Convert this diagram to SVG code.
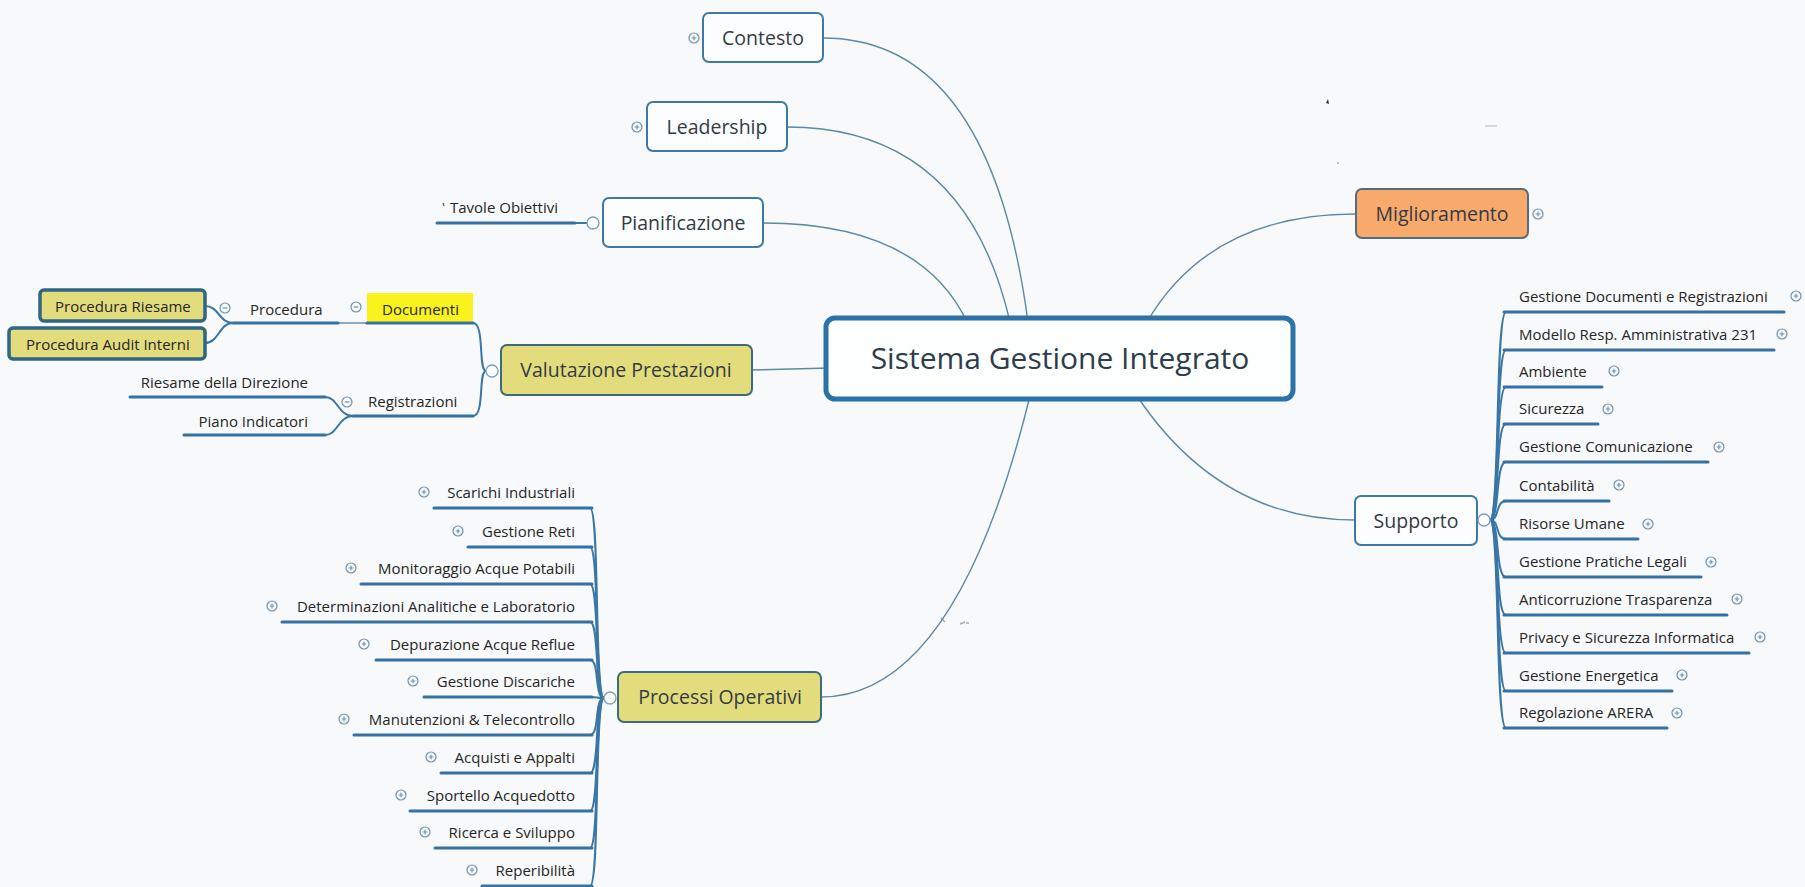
<svg xmlns="http://www.w3.org/2000/svg" xmlns:xlink="http://www.w3.org/1999/xlink" width="1805" height="887" viewBox="0 0 1805 887">
<defs>
<style>
.t{font-family:"Open Sans","Liberation Sans",sans-serif;font-size:15px;fill:#262626}
.m{font-family:"Open Sans","Liberation Sans",sans-serif;font-size:19.5px;fill:#333b42}
.c{font-family:"Open Sans","Liberation Sans",sans-serif;font-size:30px;fill:#2e3d4b}
.box{fill:#fbfdfe;stroke:#3f7aa6;stroke-width:2}
.olive{fill:#e3dc7c;stroke:#3d6a7e;stroke-width:2}
.oliveb{fill:#e3dc7c;stroke:#2f6586;stroke-width:3.5}
.ul{stroke:#3572a3;stroke-width:3;fill:none;stroke-linecap:round}
.br{stroke:#3a76a6;stroke-width:2;fill:none}
.cv{stroke:#5d89a6;stroke-width:1.4;fill:none}
.tog{fill:#fbfdfe;stroke:#7d9fb8;stroke-width:1.3}
.ic{fill:none;stroke:#6f93ad;stroke-width:1.2}
</style>
<g id="plus"><circle class="ic" r="5" fill="#fbfdfe"/><path class="ic" d="M-2.3,0H2.3M0,-2.3V2.3"/></g>
<g id="minus"><circle class="ic" r="5" fill="#fbfdfe"/><path class="ic" d="M-2.3,0H2.3"/></g>
</defs>
<rect width="1805" height="887" fill="#f7f9fa"/>

<!-- scan artifacts -->
<path d="M1326,103 l2,-4 l1,5z" fill="#333"/>
<circle cx="1338" cy="163" r="1" fill="#aaa"/>
<path d="M1485,126 h12" stroke="#c8ccd0" stroke-width="1.5"/>
<path d="M941,618 l4,4 M960,624 l5,-2 M966,623 l3,0" stroke="#a9a9a9" stroke-width="1.5"/>

<g id="connectors">
<path class="cv" d="M823,38 Q990,38 1028,322"/>
<path class="cv" d="M787,127 Q965,127 1010,322"/>
<path class="cv" d="M763,223 Q920,223 967,322"/>
<path class="cv" d="M752,370 L830,368"/>
<path class="cv" d="M821,697 Q956,697 1030,396"/>
<path class="cv" d="M1356,214 Q1210,214 1147,322"/>
<path class="cv" d="M1355,520 Q1220,520 1137,396"/>
<!-- Pianificazione -> Tavole -->
<path class="br" d="M587,223 L575,223"/>
<!-- Valutazione -> Documenti / Registrazioni -->
<path class="br" d="M486,371 C478,371 485,323 473,323"/>
<path class="br" d="M486,371 C478,371 485,416 473,416"/>
<!-- Documenti -> Procedura -->
<path class="cv" d="M367,323 L338,323"/>
<!-- Procedura -> boxes -->
<path class="br" d="M233,323 C219,323 219,306 205,306"/>
<path class="br" d="M233,323 C219,323 219,343 205,343"/>
<!-- Registrazioni -> children -->
<path class="br" d="M353,416 C338,416 338,397 325,397"/>
<path class="br" d="M353,416 C338,416 338,435 325,435"/>
<!-- Processi trunk -->
<path class="br" d="M604,698 C594,698 600,508 590,508"/>
<path class="br" d="M604,698 C594,698 600,547 590,547"/>
<path class="br" d="M604,698 C594,698 600,584 590,584"/>
<path class="br" d="M604,698 C594,698 600,622 590,622"/>
<path class="br" d="M604,698 C594,698 600,660 590,660"/>
<path class="br" d="M604,698 C594,698 600,697 590,697"/>
<path class="br" d="M604,698 C594,698 600,735 590,735"/>
<path class="br" d="M604,698 C594,698 600,773 590,773"/>
<path class="br" d="M604,698 C594,698 600,811 590,811"/>
<path class="br" d="M604,698 C594,698 600,848 590,848"/>
<path class="br" d="M604,698 C594,698 600,886 590,886"/>
<!-- Supporto trunk -->
<path class="br" d="M1490,520 C1500,520 1495,312 1506,312"/>
<path class="br" d="M1490,520 C1500,520 1495,350 1506,350"/>
<path class="br" d="M1490,520 C1500,520 1495,387 1506,387"/>
<path class="br" d="M1490,520 C1500,520 1495,424 1506,424"/>
<path class="br" d="M1490,520 C1500,520 1495,462 1506,462"/>
<path class="br" d="M1490,520 C1500,520 1495,501 1506,501"/>
<path class="br" d="M1490,520 C1500,520 1495,539 1506,539"/>
<path class="br" d="M1490,520 C1500,520 1495,577 1506,577"/>
<path class="br" d="M1490,520 C1500,520 1495,615 1506,615"/>
<path class="br" d="M1490,520 C1500,520 1495,653 1506,653"/>
<path class="br" d="M1490,520 C1500,520 1495,691 1506,691"/>
<path class="br" d="M1490,520 C1500,520 1495,728 1506,728"/>
</g>

<g id="center">
<rect x="826" y="318" width="467" height="81" rx="9" fill="#fdfefe" stroke="#2b72a8" stroke-width="5"/>
<text class="c" x="1060" y="369" text-anchor="middle">Sistema Gestione Integrato</text>
</g>

<g id="contesto">
<rect class="box" x="703" y="13" width="120" height="49" rx="6"/>
<text class="m" x="763" y="45" text-anchor="middle">Contesto</text>
<use xlink:href="#plus" x="694" y="38"/>
</g>
<g id="leadership">
<rect class="box" x="647" y="102" width="140" height="49" rx="6"/>
<text class="m" x="717" y="134" text-anchor="middle">Leadership</text>
<use xlink:href="#plus" x="637" y="127"/>
</g>
<g id="pianificazione">
<rect class="box" x="603" y="198" width="160" height="49" rx="6"/>
<text class="m" x="683" y="230" text-anchor="middle">Pianificazione</text>
<circle class="tog" cx="593" cy="223" r="6"/>
</g>
<g id="tavole">
<path class="ul" d="M437,223 H575"/>
<path d="M443,203 l1,3" stroke="#555" stroke-width="1.2"/>
<text class="t" x="450" y="213">Tavole Obiettivi</text>
</g>

<g id="valutazione">
<rect class="olive" x="501" y="345" width="251" height="50" rx="6"/>
<text class="m" x="626" y="377" text-anchor="middle" fill="#2a2a1a">Valutazione Prestazioni</text>
<circle class="tog" cx="492" cy="371" r="6"/>
</g>
<g id="documenti">
<rect x="367" y="293" width="106" height="30" fill="#f9f21c"/>
<path class="ul" d="M367,323 H473"/>
<text class="t" x="382" y="315">Documenti</text>
<use xlink:href="#minus" x="356" y="307"/>
</g>
<g id="procedura">
<path class="ul" d="M233,323 H338"/>
<text class="t" x="250" y="315">Procedura</text>
<use xlink:href="#minus" x="225" y="308"/>
</g>
<g id="procedura-riesame">
<rect class="oliveb" x="40" y="290" width="165" height="31" rx="4"/>
<text class="t" x="55" y="312">Procedura Riesame</text>
</g>
<g id="procedura-audit">
<rect class="oliveb" x="9" y="328" width="196" height="31" rx="4"/>
<text class="t" x="26" y="350">Procedura Audit Interni</text>
</g>
<g id="registrazioni">
<path class="ul" d="M353,416 H473"/>
<text class="t" x="368" y="407">Registrazioni</text>
<use xlink:href="#minus" x="347" y="402"/>
</g>
<g id="riesame-direzione">
<path class="ul" d="M130,397 H325"/>
<text class="t" x="308" y="388" text-anchor="end">Riesame della Direzione</text>
</g>
<g id="piano-indicatori">
<path class="ul" d="M184,435 H325"/>
<text class="t" x="308" y="427" text-anchor="end">Piano Indicatori</text>
</g>

<g id="processi">
<rect class="olive" x="618" y="672" width="203" height="50" rx="6"/>
<text class="m" x="720" y="704" text-anchor="middle" fill="#2a2a1a">Processi Operativi</text>
<circle class="tog" cx="610" cy="698" r="6"/>
</g>
<g id="p1"><path class="ul" d="M434,508 H592"/><text class="t" x="575" y="498" text-anchor="end">Scarichi Industriali</text><use xlink:href="#plus" x="424" y="492"/></g>
<g id="p2"><path class="ul" d="M468,547 H592"/><text class="t" x="575" y="537" text-anchor="end">Gestione Reti</text><use xlink:href="#plus" x="458" y="531"/></g>
<g id="p3"><path class="ul" d="M361,584 H592"/><text class="t" x="575" y="574" text-anchor="end">Monitoraggio Acque Potabili</text><use xlink:href="#plus" x="351" y="568"/></g>
<g id="p4"><path class="ul" d="M282,622 H592"/><text class="t" x="575" y="612" text-anchor="end">Determinazioni Analitiche e Laboratorio</text><use xlink:href="#plus" x="272" y="606"/></g>
<g id="p5"><path class="ul" d="M376,660 H592"/><text class="t" x="575" y="650" text-anchor="end">Depurazione Acque Reflue</text><use xlink:href="#plus" x="364" y="644"/></g>
<g id="p6"><path class="ul" d="M424,697 H592"/><text class="t" x="575" y="687" text-anchor="end">Gestione Discariche</text><use xlink:href="#plus" x="413" y="681"/></g>
<g id="p7"><path class="ul" d="M354,735 H592"/><text class="t" x="575" y="725" text-anchor="end">Manutenzioni &amp; Telecontrollo</text><use xlink:href="#plus" x="344" y="719"/></g>
<g id="p8"><path class="ul" d="M441,773 H592"/><text class="t" x="575" y="763" text-anchor="end">Acquisti e Appalti</text><use xlink:href="#plus" x="431" y="757"/></g>
<g id="p9"><path class="ul" d="M410,811 H592"/><text class="t" x="575" y="801" text-anchor="end">Sportello Acquedotto</text><use xlink:href="#plus" x="401" y="795"/></g>
<g id="p10"><path class="ul" d="M435,848 H592"/><text class="t" x="575" y="838" text-anchor="end">Ricerca e Sviluppo</text><use xlink:href="#plus" x="425" y="832"/></g>
<g id="p11"><path class="ul" d="M482,886 H592"/><text class="t" x="575" y="876" text-anchor="end">Reperibilità</text><use xlink:href="#plus" x="472" y="870"/></g>

<g id="miglioramento">
<rect x="1356" y="189" width="172" height="49" rx="6" fill="#f7aa6c" stroke="#566c7c" stroke-width="2"/>
<text class="m" x="1442" y="221" text-anchor="middle" fill="#2a2218">Miglioramento</text>
<use xlink:href="#plus" x="1538" y="214"/>
</g>

<g id="supporto">
<rect class="box" x="1355" y="496" width="122" height="49" rx="6"/>
<text class="m" x="1416" y="528" text-anchor="middle">Supporto</text>
<circle class="tog" cx="1484" cy="520" r="6"/>
</g>
<g id="s1"><path class="ul" d="M1504,312 H1784"/><text class="t" x="1519" y="302">Gestione Documenti e Registrazioni</text><use xlink:href="#plus" x="1796" y="296"/></g>
<g id="s2"><path class="ul" d="M1504,350 H1774"/><text class="t" x="1519" y="340">Modello Resp. Amministrativa 231</text><use xlink:href="#plus" x="1782" y="334"/></g>
<g id="s3"><path class="ul" d="M1504,387 H1602"/><text class="t" x="1519" y="377">Ambiente</text><use xlink:href="#plus" x="1614" y="371"/></g>
<g id="s4"><path class="ul" d="M1504,424 H1598"/><text class="t" x="1519" y="414">Sicurezza</text><use xlink:href="#plus" x="1608" y="409"/></g>
<g id="s5"><path class="ul" d="M1504,462 H1708"/><text class="t" x="1519" y="452">Gestione Comunicazione</text><use xlink:href="#plus" x="1719" y="447"/></g>
<g id="s6"><path class="ul" d="M1504,501 H1609"/><text class="t" x="1519" y="491">Contabilità</text><use xlink:href="#plus" x="1619" y="485"/></g>
<g id="s7"><path class="ul" d="M1504,539 H1638"/><text class="t" x="1519" y="529">Risorse Umane</text><use xlink:href="#plus" x="1648" y="524"/></g>
<g id="s8"><path class="ul" d="M1504,577 H1701"/><text class="t" x="1519" y="567">Gestione Pratiche Legali</text><use xlink:href="#plus" x="1711" y="562"/></g>
<g id="s9"><path class="ul" d="M1504,615 H1727"/><text class="t" x="1519" y="605">Anticorruzione Trasparenza</text><use xlink:href="#plus" x="1737" y="599"/></g>
<g id="s10"><path class="ul" d="M1504,653 H1749"/><text class="t" x="1519" y="643">Privacy e Sicurezza Informatica</text><use xlink:href="#plus" x="1760" y="637"/></g>
<g id="s11"><path class="ul" d="M1504,691 H1672"/><text class="t" x="1519" y="681">Gestione Energetica</text><use xlink:href="#plus" x="1682" y="675"/></g>
<g id="s12"><path class="ul" d="M1504,728 H1667"/><text class="t" x="1519" y="718">Regolazione ARERA</text><use xlink:href="#plus" x="1677" y="713"/></g>
</svg>
